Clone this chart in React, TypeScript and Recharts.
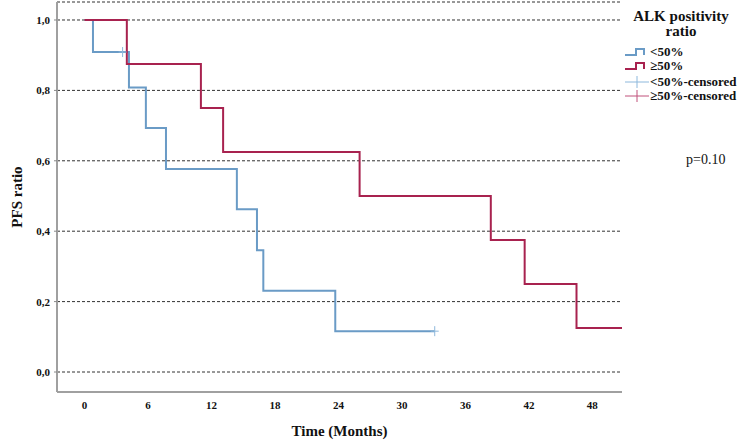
import {
  ComposedChart,
  Line,
  XAxis,
  YAxis,
  CartesianGrid,
  Label,
} from "recharts";

// Kaplan-Meier steps
const blueTimes = [0, 0.8, 4.2, 5.8, 7.7, 14.4, 16.3, 16.9, 23.7, 33.1];
const blueSurv = [1.0, 0.909, 0.808, 0.693, 0.577, 0.462, 0.346, 0.231, 0.116, 0.116];
const blueCensorTimes = [3.6, 33.1];
const blueCensorSurv = [0.909, 0.116];

const redTimes = [0, 4.0, 11.0, 13.1, 26.0, 38.4, 41.6, 46.5, 50.8];
const redSurv = [1.0, 0.875, 0.75, 0.625, 0.5, 0.375, 0.25, 0.125, 0.125];

const xTicks = [0, 6, 12, 18, 24, 30, 36, 42, 48];
const yTicks = [0, 0.2, 0.4, 0.6, 0.8, 1.0];

const legendLabels = ["<50%", "\u226550%", "<50%-censored", "\u226550%-censored"];

const BLUE = "#6a9bc6";
const BLUE_LIGHT = "#8db8dc";
const RED = "#a8224f";
const RED_LIGHT = "#c0507a";
const FONT = "'Liberation Serif', 'Times New Roman', serif";

const toRows = (ts: number[], ss: number[]) => ts.map((t, i) => ({ t, s: ss[i] }));

const blueData = toRows(blueTimes, blueSurv);
const redData = toRows(redTimes, redSurv);
const blueCensor = toRows(blueCensorTimes, blueCensorSurv);

const Plus = (props: any) => {
  const { cx, cy } = props;
  if (cx == null || cy == null) return null;
  return (
    <g key={`c-${cx}-${cy}`}>
      <line x1={cx - 4} x2={cx + 4} y1={cy} y2={cy} stroke={BLUE_LIGHT} strokeWidth={1} />
      <line x1={cx} x2={cx} y1={cy - 5} y2={cy + 5} stroke={BLUE_LIGHT} strokeWidth={1} />
    </g>
  );
};

const stepIcon = (color: string) => (
  <svg width={26} height={10} style={{ position: "absolute", left: 0, top: -5 }}>
    <path d="M1,8 H12 V2 H20 V8" fill="none" stroke={color} strokeWidth={2} />
  </svg>
);

const plusIcon = (color: string) => (
  <svg width={26} height={12} style={{ position: "absolute", left: 0, top: -6 }}>
    <line x1={1} x2={25} y1={6} y2={6} stroke={color} strokeWidth={1} />
    <line x1={13} x2={13} y1={0} y2={12} stroke={color} strokeWidth={1} />
  </svg>
);

const LegendBox = () => {
  const icons = [stepIcon(BLUE), stepIcon(RED), plusIcon(BLUE_LIGHT), plusIcon(RED_LIGHT)];
  const rowY = [52, 66, 82, 96];
  return (
    <div
      style={{
        position: "absolute",
        left: 600,
        top: 0,
        width: 146,
        height: 110,
        fontFamily: FONT,
        color: "#111",
      }}
    >
      <div
        style={{
          position: "absolute",
          left: 18,
          width: 126,
          top: 9,
          textAlign: "center",
          fontWeight: "bold",
          fontSize: 15,
          lineHeight: "15px",
        }}
      >
        ALK positivity
        <br />
        ratio
      </div>
      {legendLabels.map((lab, i) => (
        <div key={lab} style={{ position: "absolute", left: 24, top: rowY[i] }}>
          {icons[i]}
          <span
            style={{
              position: "absolute",
              left: 26,
              top: -8,
              whiteSpace: "nowrap",
              fontWeight: "bold",
              fontSize: 13,
              lineHeight: "16px",
            }}
          >
            {lab}
          </span>
        </div>
      ))}
    </div>
  );
};

const tickStyle = { fontFamily: FONT, fontSize: 11, fontWeight: "bold", fill: "#111" };

export default function App() {
  return (
    <div style={{ position: "absolute", left: 0, top: 0, width: 746, height: 442, background: "#fff" }}>
      <ComposedChart width={746} height={442} margin={{ top: 2, right: 124, left: 0, bottom: 0 }}>
        <CartesianGrid vertical={false} stroke="#333" strokeDasharray="3 2" />
        <XAxis
          type="number"
          dataKey="t"
          domain={[-2.6, 50.8]}
          ticks={xTicks}
          allowDataOverflow
          height={50}
          tickLine={false}
          tickSize={0}
          tickMargin={9}
          axisLine={{ stroke: "#a0a0a0", strokeWidth: 2 }}
          tick={tickStyle}
        >
          <Label
            content={(p: any) => {
              const vb = p.viewBox;
              return (
                <text
                  x={vb.x + vb.width / 2}
                  y={436}
                  textAnchor="middle"
                  style={{ fontFamily: FONT, fontSize: 15, fontWeight: "bold" }}
                  fill="#111"
                >
                  Time (Months)
                </text>
              );
            }}
          />
        </XAxis>
        <YAxis
          type="number"
          dataKey="s"
          domain={[-0.0568, 1.0511]}
          ticks={yTicks}
          allowDataOverflow
          width={57}
          tickSize={3}
          tickMargin={4}
          tickLine={{ stroke: "#888" }}
          axisLine={{ stroke: "#a0a0a0", strokeWidth: 2 }}
          tick={tickStyle}
          tickFormatter={(v: number) => v.toFixed(1).replace(".", ",")}
        >
          <Label
            content={(p: any) => {
              const vb = p.viewBox;
              const cy = vb.y + vb.height / 2;
              return (
                <text
                  x={22}
                  y={cy}
                  textAnchor="middle"
                  transform={`rotate(-90, 22, ${cy})`}
                  style={{ fontFamily: FONT, fontSize: 15, fontWeight: "bold" }}
                  fill="#111"
                >
                  PFS ratio
                </text>
              );
            }}
          />
        </YAxis>
        <Line
          data={blueData}
          dataKey="s"
          type="stepAfter"
          stroke={BLUE}
          strokeWidth={2}
          dot={false}
          activeDot={false}
          isAnimationActive={false}
        />
        <Line
          data={redData}
          dataKey="s"
          type="stepAfter"
          stroke={RED}
          strokeWidth={2}
          dot={false}
          activeDot={false}
          isAnimationActive={false}
        />
        <Line
          data={blueCensor}
          dataKey="s"
          stroke="none"
          dot={Plus}
          activeDot={false}
          isAnimationActive={false}
        />
      </ComposedChart>
      <LegendBox />
      <div
        style={{
          position: "absolute",
          left: 686,
          top: 152,
          fontFamily: FONT,
          fontSize: 14,
          color: "#111",
        }}
      >
        p=0.10
      </div>
    </div>
  );
}
